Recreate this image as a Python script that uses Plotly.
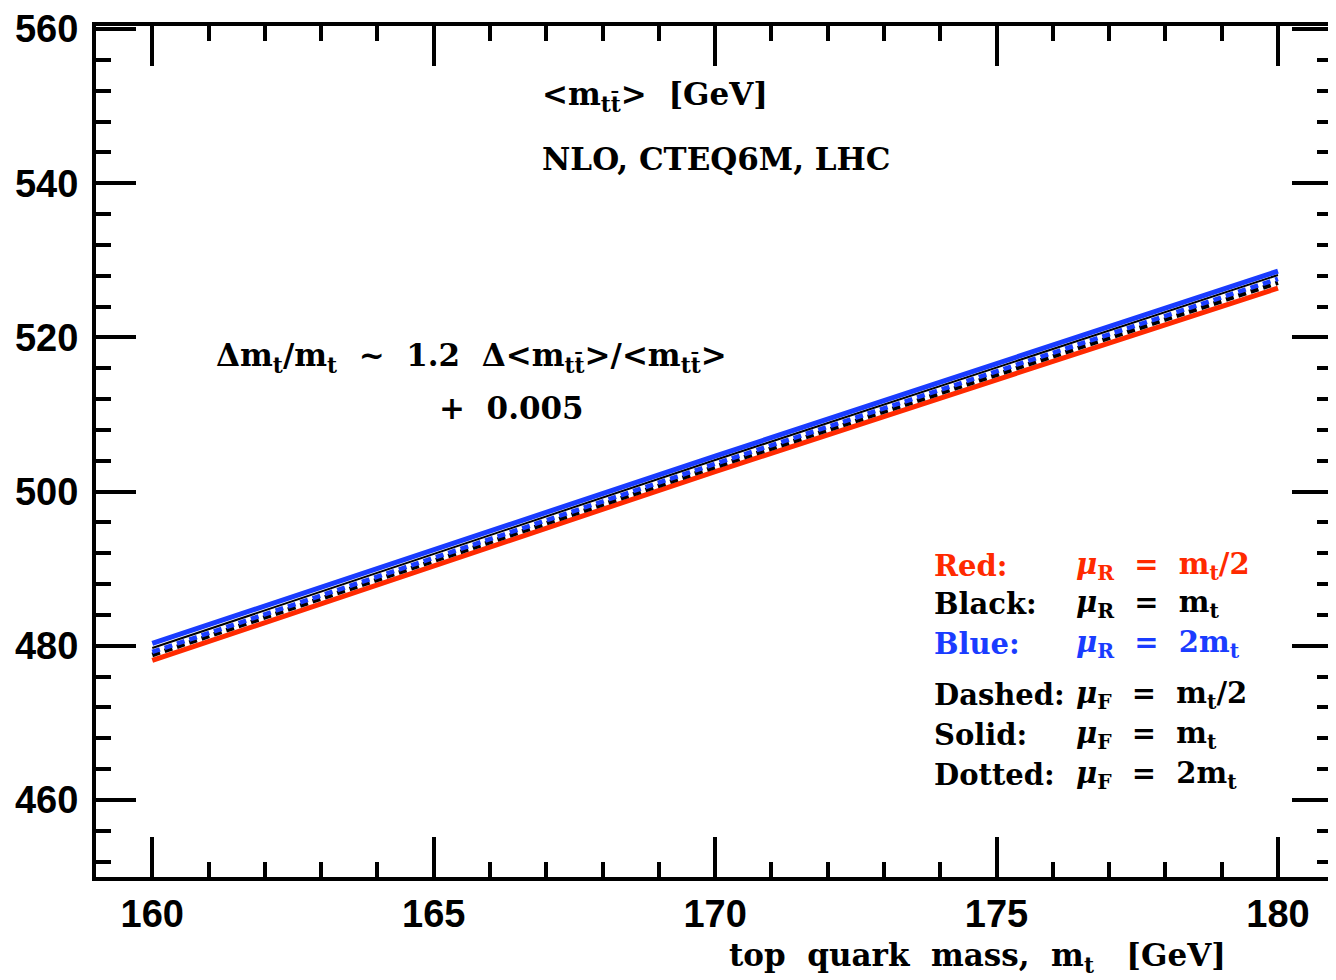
import plotly.graph_objects as go

# ---- data ----
mt = [160, 170, 180]
blue_solid = [480.3, 504.6, 528.6]
black_solid = [479.7, 504.1, 528.1]
blue_dashed = [479.2, 503.6, 527.6]
black_dashed = [478.8, 503.2, 527.1]
red_solid = [478.1, 502.6, 526.4]

x_ticks = [160, 165, 170, 175, 180]
y_ticks = [460, 480, 500, 520, 540, 560]

RED = "#ff2a00"
BLUE = "#1a3cff"
BLACK = "#000000"

fig = go.Figure()
series = [
    (red_solid, RED, "solid", 5),
    (black_dashed, BLACK, "8px,5px", 4.5),
    (blue_dashed, BLUE, "8px,5px", 4.5),
    (black_solid, BLACK, "solid", 2),
    (blue_solid, BLUE, "solid", 5),
]
for ys, col, dash, w in series:
    fig.add_trace(go.Scatter(x=mt, y=ys, mode="lines",
                             line=dict(color=col, width=w, dash=dash),
                             showlegend=False, hoverinfo="skip"))

FAM = "DejaVu Serif"
TXT = dict(family=FAM, size=31, color="black", weight="bold")
LEG = dict(family=FAM, size=29, color="black", weight="bold")

def ann(x, y, text, font, xanchor="left", **kw):
    fig.add_annotation(x=x, y=y, text=text, showarrow=False, xanchor=xanchor,
                       yanchor="middle", font=font, **kw)

MU = "<i>μ</i>"
ann(166.88, 551.3, "&lt;m<sub>tt̄</sub>&gt;  [GeV]", TXT)
ann(166.88, 543.2, "NLO, CTEQ6M, LHC", TXT)
ann(161.09, 517.4, "Δm<sub>t</sub>/m<sub>t</sub>  ~  1.2  Δ&lt;m<sub>tt̄</sub>&gt;/&lt;m<sub>tt̄</sub>&gt;", TXT)
ann(165.05, 510.9, "+  0.005", TXT)

leg_rows = [
    ("Red:", MU + "<sub>R</sub>  =  m<sub>t</sub>/2", RED, 490.4),
    ("Black:", MU + "<sub>R</sub>  =  m<sub>t</sub>", BLACK, 485.4),
    ("Blue:", MU + "<sub>R</sub>  =  2m<sub>t</sub>", BLUE, 480.2),
    ("Dashed:", MU + "<sub>F</sub>  =  m<sub>t</sub>/2", BLACK, 473.6),
    ("Solid:", MU + "<sub>F</sub>  =  m<sub>t</sub>", BLACK, 468.4),
    ("Dotted:", MU + "<sub>F</sub>  =  2m<sub>t</sub>", BLACK, 463.2),
]
for lab, val, col, yy in leg_rows:
    f = dict(LEG, color=col)
    ann(173.85, yy, lab, f)
    ann(176.38, yy, val, f)

fig.add_annotation(x=179.12, y=-0.095, xref="x", yref="paper",
                   text="top  quark  mass,  m<sub>t</sub>   [GeV]", showarrow=False,
                   xanchor="right", yanchor="middle",
                   font=dict(family=FAM, size=31, color="black", weight="bold"))

tickfont = dict(family="Liberation Sans", size=38, color="black", weight="bold")
common = dict(ticks="inside", ticklen=40, tickwidth=3.5, tickcolor="black",
              mirror="allticks", showline=True, linewidth=4, linecolor="black",
              showgrid=False, zeroline=False, tickfont=tickfont,
              ticklabeloverflow="allow")
fig.update_xaxes(range=[159, 180.96], tickvals=x_ticks, **common,
                 minor=dict(dtick=1, ticks="inside", ticklen=15, tickwidth=3.5,
                            tickcolor="black", showgrid=False))
fig.update_yaxes(range=[450, 560.4], tickvals=y_ticks, ticklabelstandoff=6, **common,
                 minor=dict(dtick=4, ticks="inside", ticklen=15, tickwidth=3.5,
                            tickcolor="black", showgrid=False))

# page body adds an 8px offset; figure sized so the frame lands where the reference has it
fig.update_layout(width=1328, height=972, plot_bgcolor="white", paper_bgcolor="white",
                  margin=dict(l=88, r=0, t=18, b=103), showlegend=False)

fig.write_html("out.html")
